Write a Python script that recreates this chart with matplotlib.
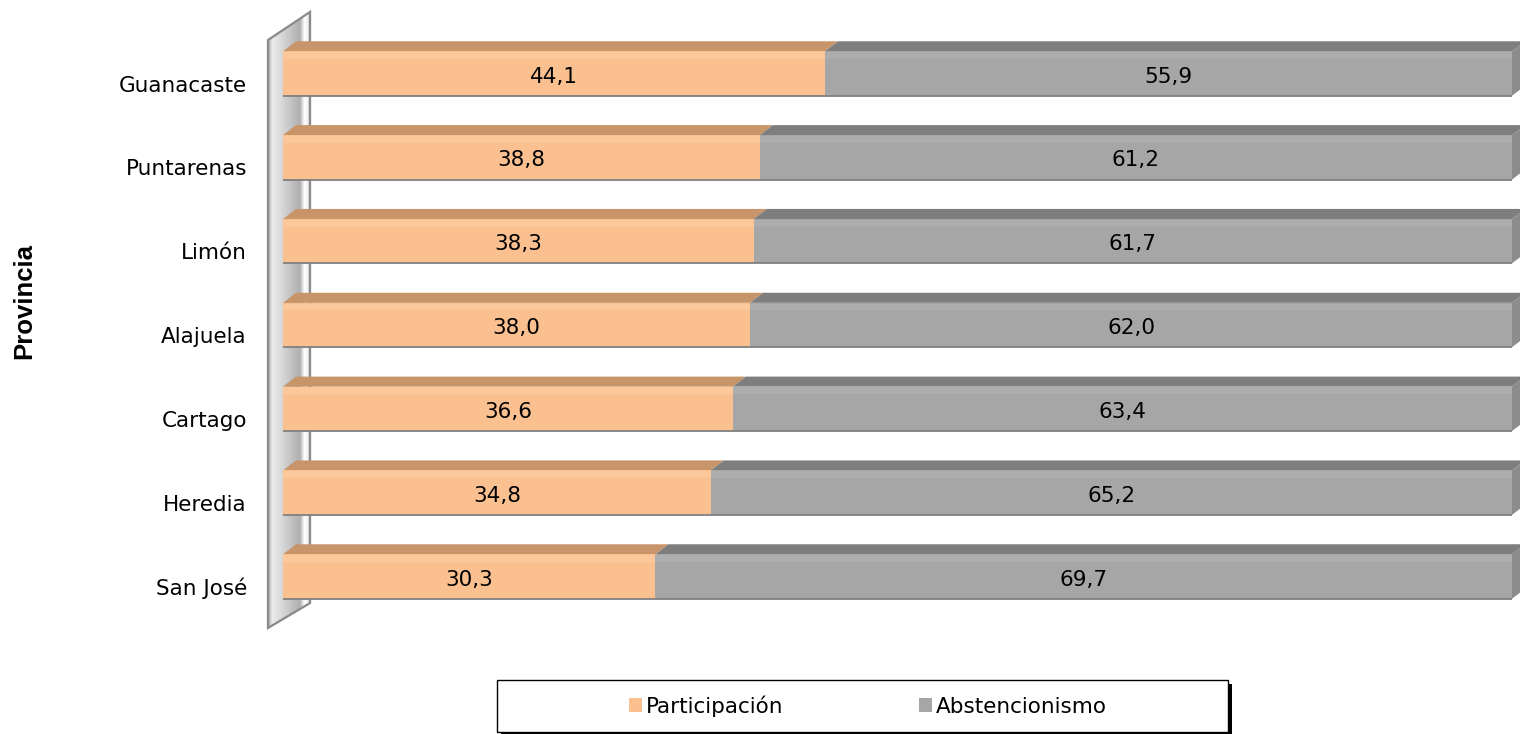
import numpy as np
import matplotlib
matplotlib.use("Agg")
import matplotlib.pyplot as plt
from matplotlib.patches import Polygon, Rectangle
from matplotlib.colors import LinearSegmentedColormap
from matplotlib.transforms import ScaledTranslation

# data (top to bottom as shown)
provincias = ["Guanacaste", "Puntarenas", "Limón", "Alajuela", "Cartago", "Heredia", "San José"]
participacion = [44.1, 38.8, 38.3, 38.0, 36.6, 34.8, 30.3]
abstencionismo = [55.9, 61.2, 61.7, 62.0, 63.4, 65.2, 69.7]
series_names = ["Participación", "Abstencionismo"]

front_cols = ["#FAC090", "#A6A6A6"]
hi_cols = ["#FBC79B", "#ADADAD"]
top_cols = ["#C8956A", "#7E7E7E"]
side_col = "#8C8C8C"

plt.rcParams["font.family"] = ["DejaVu Sans"]
FS = 15.5

W, Hpx = 1520, 734
fig = plt.figure(figsize=(W / 100, Hpx / 100), dpi=100)
ax = fig.add_axes([283 / W, 1 - 640 / Hpx, 1229 / W, 630 / Hpx])

n = len(provincias)
ypos = np.arange(n)[::-1]  # Guanacaste at top
H = 0.53      # bar thickness (data units)
DX = 1.06     # depth offset in x
DY = 0.12     # depth offset in y

# side wall (3d box left wall)
wx0, wx1 = -1.22, 2.20
wall_pts = [(wx0, -0.614), (wx0, 6.40), (wx1, 6.735), (wx1, -0.316)]
wall = Polygon(wall_pts, closed=True, facecolor="none", edgecolor="#8A8A8A",
               lw=1.6, zorder=1, clip_on=False)
ax.add_patch(wall)
cmap = LinearSegmentedColormap.from_list(
    "wall", [(0, "#A8A8A8"), (0.1, "#EDEDED"), (0.3, "#DADADA"), (0.75, "#AFAFAF"),
             (0.85, "#FFFFFF"), (0.93, "#F2F2F2"), (1, "#9A9A9A")])
grad = np.linspace(0, 1, 200).reshape(1, -1)
im = ax.imshow(grad, cmap=cmap, extent=[wx0, wx1, -0.7, 6.8], aspect="auto", zorder=0.5)
im.set_clip_box(fig.bbox)
im.set_clip_path(wall)

# bars
lefts = np.zeros(n)
handles = []
lab_shift = ScaledTranslation(0, -0.03, fig.dpi_scale_trans)
for k, vals in enumerate([participacion, abstencionismo]):
    vals = np.array(vals)
    bc = ax.barh(ypos, vals, left=lefts, height=H, color=front_cols[k],
                 edgecolor="none", zorder=3, label=series_names[k])
    handles.append(bc)
    ax.barh(ypos + H / 2 - 0.05, vals, left=lefts, height=0.08, color=hi_cols[k],
            edgecolor="none", zorder=3.1)
    for y, l, v in zip(ypos, lefts, vals):
        top = Polygon([(l, y + H / 2), (l + v, y + H / 2),
                       (l + v + DX, y + H / 2 + DY), (l + DX, y + H / 2 + DY)],
                      closed=True, facecolor=top_cols[k], edgecolor="none",
                      zorder=2.9, clip_on=False)
        ax.add_patch(top)
        ax.text(l + v / 2, y, f"{v:.1f}".replace(".", ","), ha="center", va="center",
                fontsize=FS, color="black", zorder=5,
                transform=ax.transData + lab_shift)
    lefts = lefts + vals

for y, tot in zip(ypos, lefts):
    side = Polygon([(tot, y - H / 2), (tot, y + H / 2),
                    (tot + DX, y + H / 2 + DY), (tot + DX, y - H / 2 + DY)],
                   closed=True, facecolor=side_col, edgecolor="none", zorder=2.8, clip_on=False)
    ax.add_patch(side)
    ax.plot([0, tot], [y - H / 2, y - H / 2], color="#808080", lw=1.3, zorder=4,
            solid_capstyle="butt", clip_on=False)

ax.set_xlim(0, 100)
ax.set_ylim(-0.757, 6.758)
ax.set_xticks([])
ax.set_yticks(ypos)
ax.set_yticklabels(provincias, fontsize=FS)
ax.tick_params(axis="y", length=0, pad=26)
for lab in ax.get_yticklabels():
    lab.set_transform(lab.get_transform() + ScaledTranslation(0, -0.10, fig.dpi_scale_trans))
for s in ax.spines.values():
    s.set_visible(False)
ax.patch.set_visible(False)

fig.text(24 / W, 1 - 301 / Hpx, "Provincia", rotation=90, ha="center", va="center",
         fontsize=18.5, fontweight="bold", family=["Liberation Sans", "DejaVu Sans"])

# legend box with shadow
bx, by, bw, bh = 497 / W, 1 - 732 / Hpx, 731 / W, 52 / Hpx
fig.patches.append(Rectangle((bx + 4 / W, by - 4 / Hpx), bw, bh, transform=fig.transFigure,
                             facecolor="black", edgecolor="none", zorder=1))
fig.patches.append(Rectangle((bx, by), bw, bh, transform=fig.transFigure,
                             facecolor="white", edgecolor="black", lw=1, zorder=2))
leg = fig.legend(handles=handles, labels=series_names, loc="center",
                 bbox_to_anchor=(868 / W, 1 - 706 / Hpx), ncol=2, frameon=False,
                 fontsize=FS, handlelength=0.6, handleheight=0.6, handletextpad=0.2,
                 columnspacing=6.3)
leg.set_zorder(5)

fig.savefig("out.png", dpi=100)
